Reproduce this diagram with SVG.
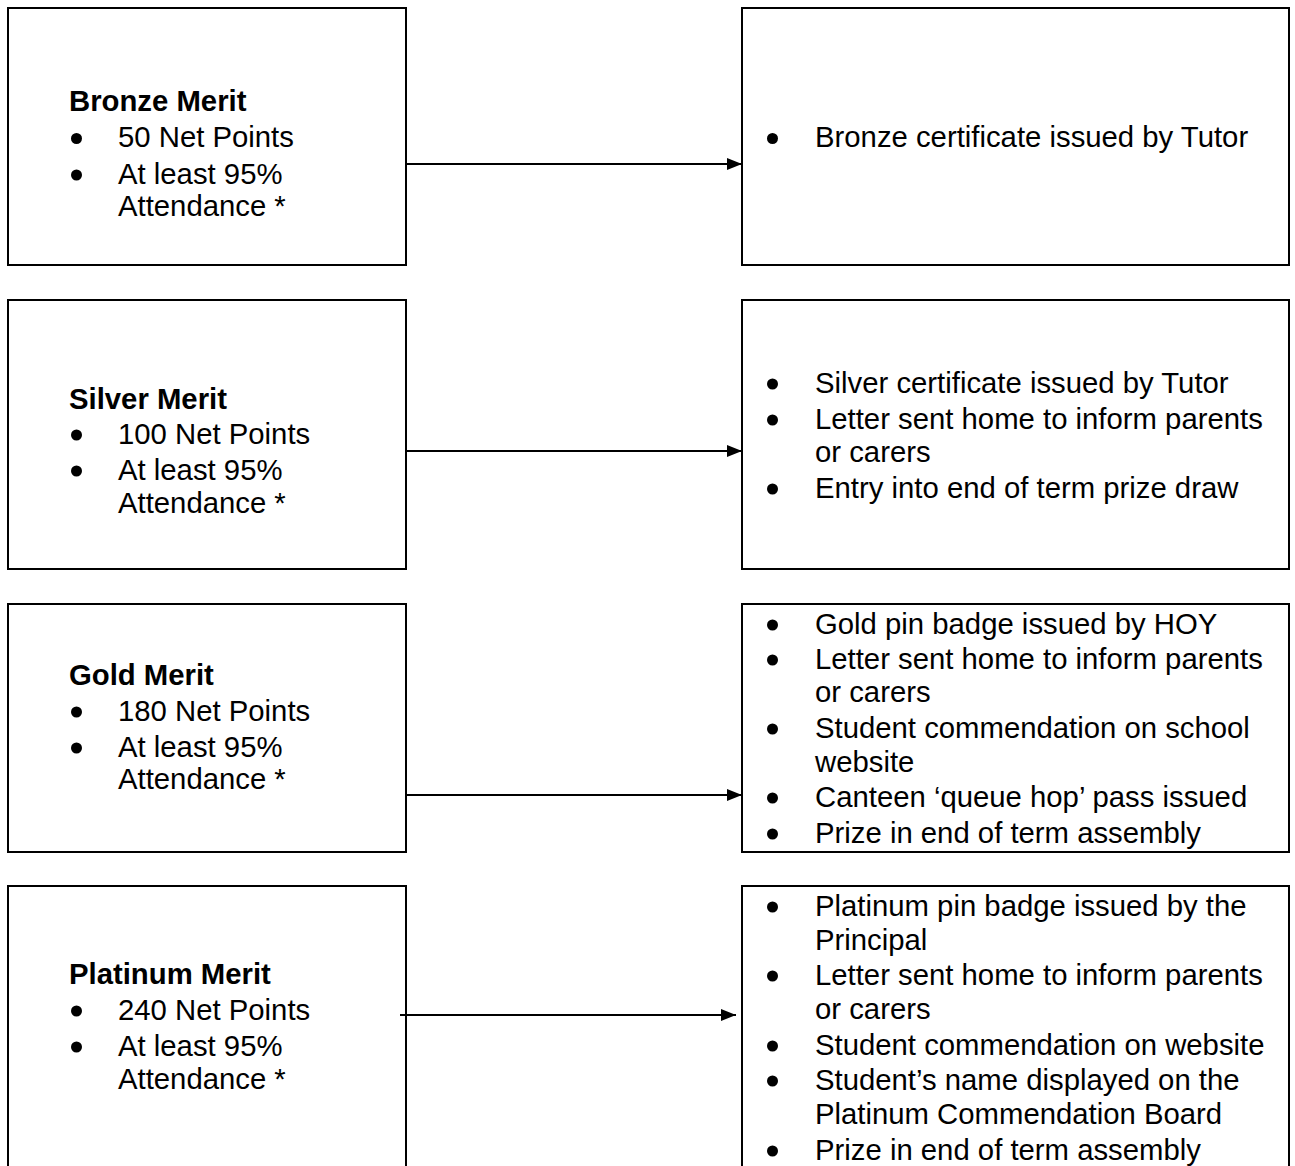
<svg xmlns="http://www.w3.org/2000/svg" width="1295" height="1166" viewBox="0 0 1295 1166">
<defs>
<style>
.box{fill:#fff;stroke:#000;stroke-width:2}
text{font-family:"Liberation Sans",Arial,sans-serif;font-size:29.3px;fill:#000}
.t{font-weight:bold}
.dot{fill:#000}
.con{stroke:#000;stroke-width:2;fill:none}
</style>
<marker id="ah" markerWidth="16" markerHeight="12" refX="15" refY="6" orient="auto" markerUnits="userSpaceOnUse">
<path d="M0,0 L15,6 L0,12 Z" fill="#000"/>
</marker>
</defs>
<rect width="1295" height="1166" fill="#fff"/>

<g id="bronze-merit">
<rect class="box" x="8" y="8" width="398" height="257"/>
<text class="t" x="69" y="111">Bronze Merit</text>
<circle class="dot" cx="76.5" cy="138.5" r="5.5"/><text x="118" y="147">50 Net Points</text>
<circle class="dot" cx="76.5" cy="175" r="5.5"/><text x="118" y="184">At least 95%</text>
<text x="118" y="216">Attendance *</text>
</g>
<g id="bronze-reward">
<rect class="box" x="742" y="8" width="547" height="257"/>
<circle class="dot" cx="772.5" cy="138.5" r="5.5"/><text x="815" y="147">Bronze certificate issued by Tutor</text>
</g>

<g id="silver-merit">
<rect class="box" x="8" y="300" width="398" height="269"/>
<text class="t" x="69" y="409">Silver Merit</text>
<circle class="dot" cx="76.5" cy="435" r="5.5"/><text x="118" y="444">100 Net Points</text>
<circle class="dot" cx="76.5" cy="471" r="5.5"/><text x="118" y="480">At least 95%</text>
<text x="118" y="513">Attendance *</text>
</g>
<g id="silver-reward">
<rect class="box" x="742" y="300" width="547" height="269"/>
<circle class="dot" cx="772.5" cy="384" r="5.5"/><text x="815" y="393">Silver certificate issued by Tutor</text>
<circle class="dot" cx="772.5" cy="420" r="5.5"/><text x="815" y="429">Letter sent home to inform parents</text>
<text x="815" y="462">or carers</text>
<circle class="dot" cx="772.5" cy="489" r="5.5"/><text x="815" y="498">Entry into end of term prize draw</text>
</g>

<g id="gold-merit">
<rect class="box" x="8" y="604" width="398" height="248"/>
<text class="t" x="69" y="685">Gold Merit</text>
<circle class="dot" cx="76.5" cy="712" r="5.5"/><text x="118" y="721">180 Net Points</text>
<circle class="dot" cx="76.5" cy="748" r="5.5"/><text x="118" y="757">At least 95%</text>
<text x="118" y="789">Attendance *</text>
</g>
<g id="gold-reward">
<rect class="box" x="742" y="604" width="547" height="248"/>
<circle class="dot" cx="772.5" cy="625" r="5.5"/><text x="815" y="634">Gold pin badge issued by HOY</text>
<circle class="dot" cx="772.5" cy="660" r="5.5"/><text x="815" y="669">Letter sent home to inform parents</text>
<text x="815" y="702">or carers</text>
<circle class="dot" cx="772.5" cy="729" r="5.5"/><text x="815" y="738">Student commendation on school</text>
<text x="815" y="772">website</text>
<circle class="dot" cx="772.5" cy="798" r="5.5"/><text x="815" y="807">Canteen ‘queue hop’ pass issued</text>
<circle class="dot" cx="772.5" cy="834" r="5.5"/><text x="815" y="843">Prize in end of term assembly</text>
</g>

<g id="platinum-merit">
<rect class="box" x="8" y="886" width="398" height="300"/>
<text class="t" x="69" y="984">Platinum Merit</text>
<circle class="dot" cx="76.5" cy="1011" r="5.5"/><text x="118" y="1020">240 Net Points</text>
<circle class="dot" cx="76.5" cy="1047" r="5.5"/><text x="118" y="1056">At least 95%</text>
<text x="118" y="1089">Attendance *</text>
</g>
<g id="platinum-reward">
<rect class="box" x="742" y="886" width="547" height="300"/>
<circle class="dot" cx="772.5" cy="907" r="5.5"/><text x="815" y="916">Platinum pin badge issued by the</text>
<text x="815" y="950">Principal</text>
<circle class="dot" cx="772.5" cy="976" r="5.5"/><text x="815" y="985">Letter sent home to inform parents</text>
<text x="815" y="1019">or carers</text>
<circle class="dot" cx="772.5" cy="1046" r="5.5"/><text x="815" y="1055">Student commendation on website</text>
<circle class="dot" cx="772.5" cy="1081" r="5.5"/><text x="815" y="1090">Student’s name displayed on the</text>
<text x="815" y="1124">Platinum Commendation Board</text>
<circle class="dot" cx="772.5" cy="1151" r="5.5"/><text x="815" y="1160">Prize in end of term assembly</text>
</g>

<g id="connectors">
<line class="con" x1="406" y1="164" x2="742" y2="164" marker-end="url(#ah)"/>
<line class="con" x1="406" y1="451" x2="742" y2="451" marker-end="url(#ah)"/>
<line class="con" x1="406" y1="795" x2="742" y2="795" marker-end="url(#ah)"/>
<line class="con" x1="400" y1="1015" x2="736" y2="1015" marker-end="url(#ah)"/>
</g>
</svg>
